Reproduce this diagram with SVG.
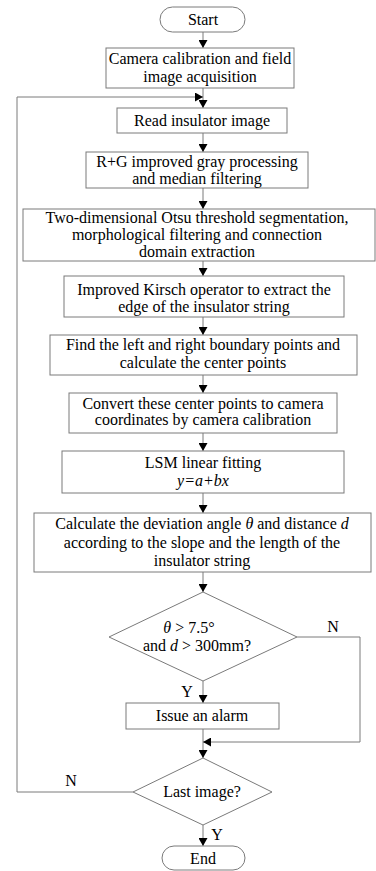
<svg xmlns="http://www.w3.org/2000/svg" width="376" height="871" viewBox="0 0 376 871">
<style>
.box{fill:#fff;stroke:#7a7a7a;stroke-width:1}
.ln{fill:none;stroke:#7a7a7a;stroke-width:1}
text{font-family:"Liberation Serif","Times New Roman",serif;font-size:16px;fill:#000;text-anchor:middle}
.it{font-style:italic}
</style>
<defs>
<marker id="ah" viewBox="0 0 8 9" refX="8" refY="4.5" markerWidth="8" markerHeight="9" orient="auto" markerUnits="userSpaceOnUse">
<path d="M0,0 L8,4.5 L0,9 z" fill="#000"/>
</marker>
</defs>
<rect width="376" height="871" fill="#fff"/>
<g id="connectors">
<line class="ln" x1="203" y1="32" x2="203" y2="48" marker-end="url(#ah)"/>
<line class="ln" x1="203" y1="88" x2="203" y2="108" marker-end="url(#ah)"/>
<line class="ln" x1="203" y1="133" x2="203" y2="152" marker-end="url(#ah)"/>
<line class="ln" x1="203" y1="188" x2="203" y2="209" marker-end="url(#ah)"/>
<line class="ln" x1="203" y1="261" x2="203" y2="276" marker-end="url(#ah)"/>
<line class="ln" x1="203" y1="317" x2="203" y2="335" marker-end="url(#ah)"/>
<line class="ln" x1="203" y1="375" x2="203" y2="393" marker-end="url(#ah)"/>
<line class="ln" x1="203" y1="433" x2="203" y2="451" marker-end="url(#ah)"/>
<line class="ln" x1="203" y1="493" x2="203" y2="513" marker-end="url(#ah)"/>
<line class="ln" x1="203" y1="572" x2="203" y2="592" marker-end="url(#ah)"/>
<line class="ln" x1="203" y1="681" x2="203" y2="703" marker-end="url(#ah)"/>
<line class="ln" x1="203" y1="729" x2="203" y2="758" marker-end="url(#ah)"/>
<polyline class="ln" points="297,637 360,637 360,742 203,742" marker-end="url(#ah)"/>
<polyline class="ln" points="133,792 17,792 17,97 203,97" marker-end="url(#ah)"/>
<line class="ln" x1="203" y1="825" x2="203" y2="846" marker-end="url(#ah)"/>
<text x="333" y="632">N</text>
<text x="187" y="697">Y</text>
<text x="71" y="786">N</text>
<text x="217" y="840">Y</text>
</g>
<g id="start">
<rect class="box" x="160" y="7" width="85" height="25" rx="12.5"/>
<text x="203" y="25">Start</text>
</g>
<g id="camera">
<rect class="box" x="106" y="48" width="188" height="40"/>
<text x="200" y="64">Camera calibration and field</text>
<text x="200" y="82">image acquisition</text>
</g>
<g id="read">
<rect class="box" x="117" y="108" width="170" height="25"/>
<text x="202" y="126">Read insulator image</text>
</g>
<g id="gray">
<rect class="box" x="86" y="152" width="222" height="36"/>
<text x="197" y="167">R+G improved gray processing</text>
<text x="197" y="184">and median filtering</text>
</g>
<g id="otsu">
<rect class="box" x="23" y="209" width="352" height="52"/>
<text x="197" y="223">Two-dimensional Otsu threshold segmentation,</text>
<text x="197" y="240">morphological filtering and connection</text>
<text x="197" y="257">domain extraction</text>
</g>
<g id="kirsch">
<rect class="box" x="64" y="276" width="280" height="41"/>
<text x="204" y="295">Improved Kirsch operator to extract the</text>
<text x="204" y="312">edge of the insulator string</text>
</g>
<g id="find">
<rect class="box" x="50" y="335" width="307" height="40"/>
<text x="203" y="350">Find the left and right boundary points and</text>
<text x="203" y="368">calculate the center points</text>
</g>
<g id="convert">
<rect class="box" x="69" y="393" width="268" height="40"/>
<text x="203" y="409">Convert these center points to camera</text>
<text x="203" y="425">coordinates by camera calibration</text>
</g>
<g id="lsm">
<rect class="box" x="62" y="451" width="282" height="42"/>
<text x="203" y="468">LSM linear fitting</text>
<text x="203" y="486" class="it">y=a+bx</text>
</g>
<g id="calc">
<rect class="box" x="34" y="513" width="337" height="59"/>
<text x="202" y="529">Calculate the deviation angle <tspan class="it">θ</tspan> and distance <tspan class="it">d</tspan></text>
<text x="202" y="548">according to the slope and the length of the</text>
<text x="202" y="566">insulator string</text>
</g>
<g id="decision1">
<polygon class="box" points="203,592 297,637 203,681 109,637"/>
<text x="189" y="633"><tspan class="it">θ</tspan> &gt; 7.5°</text>
<text x="197" y="651">and <tspan class="it">d</tspan> &gt; 300mm?</text>
</g>
<g id="alarm">
<rect class="box" x="126" y="703" width="153" height="26"/>
<text x="202" y="721">Issue an alarm</text>
</g>
<g id="decision2">
<polygon class="box" points="203,758 272,792 203,825 133,792"/>
<text x="202" y="797">Last image?</text>
</g>
<g id="end">
<rect class="box" x="162" y="846" width="83" height="24" rx="12"/>
<text x="203" y="864">End</text>
</g>
</svg>
